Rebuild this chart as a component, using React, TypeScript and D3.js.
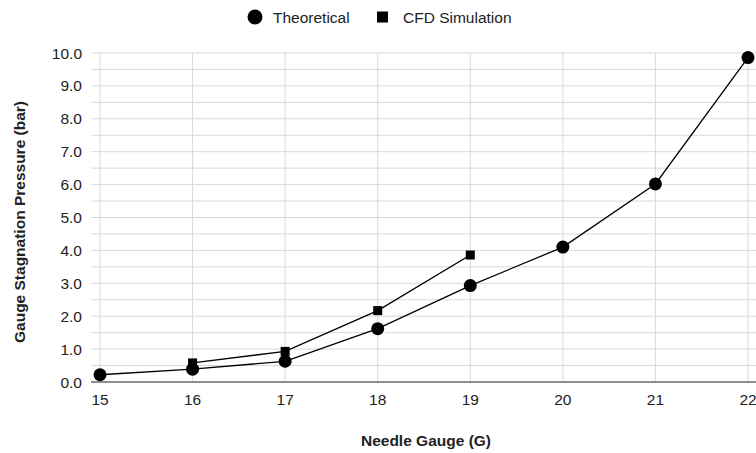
import { useEffect, useRef } from "react";
import * as d3 from "d3";

const gauges = [15, 16, 17, 18, 19, 20, 21, 22];
const theoretical = [0.22, 0.39, 0.63, 1.62, 2.93, 4.1, 6.02, 9.86];
const cfdGauges = [16, 17, 18, 19];
const cfd = [0.58, 0.93, 2.17, 3.86];
const yTicks = [0, 1, 2, 3, 4, 5, 6, 7, 8, 9, 10];

const FONT = "Arial, 'Liberation Sans', sans-serif";
const FS = 15.5;

export default function App() {
  const ref = useRef<SVGSVGElement>(null);

  useEffect(() => {
    const el = ref.current;
    if (!el) return;
    const W = 756, H = 453;
    const svg = d3.select(el).attr("width", W).attr("height", H);
    svg.selectAll("*").remove();
    svg.append("rect").attr("width", W).attr("height", H).attr("fill", "#fff");

    const plotL = 91, plotR = 756;
    const x = d3.scaleLinear().domain([15, 22]).range([100, 748]);
    const y = d3.scaleLinear().domain([0, 10]).range([382, 53]);

    // minor + major horizontal grid
    d3.range(0, 10.01, 0.5).forEach((t) => {
      svg.append("line").attr("x1", plotL).attr("x2", plotR).attr("y1", y(t)).attr("y2", y(t))
        .attr("stroke", "#d9d9d9").attr("stroke-width", 1);
    });
    // vertical grid
    gauges.forEach((g) => {
      svg.append("line").attr("x1", x(g)).attr("x2", x(g)).attr("y1", y(10)).attr("y2", y(0))
        .attr("stroke", "#d9d9d9").attr("stroke-width", 1);
    });
    // baseline
    svg.append("line").attr("x1", plotL).attr("x2", plotR).attr("y1", y(0)).attr("y2", y(0))
      .attr("stroke", "#333").attr("stroke-width", 1);

    // y tick labels
    yTicks.forEach((t) => {
      svg.append("text").attr("x", 82).attr("y", y(t) + 5.5).attr("text-anchor", "end")
        .attr("fill", "#222").attr("font-size", FS).attr("font-family", FONT).text(t.toFixed(1));
    });
    // x tick labels
    gauges.forEach((g) => {
      svg.append("text").attr("x", x(g)).attr("y", 405).attr("text-anchor", "middle")
        .attr("fill", "#222").attr("font-size", FS).attr("font-family", FONT).text(g);
    });

    // axis titles
    svg.append("text").attr("x", 426).attr("y", 446).attr("text-anchor", "middle")
      .attr("fill", "#222").attr("font-size", FS).attr("font-weight", "bold").attr("font-family", FONT)
      .text("Needle Gauge (G)");
    svg.append("text").attr("transform", `translate(25,222) rotate(-90)`).attr("text-anchor", "middle")
      .attr("fill", "#222").attr("font-size", FS).attr("font-weight", "bold").attr("font-family", FONT)
      .text("Gauge Stagnation Pressure (bar)");

    // lines
    const line = d3.line<[number, number]>().x((d) => x(d[0])).y((d) => y(d[1]));
    const tData = gauges.map((g, i) => [g, theoretical[i]] as [number, number]);
    const cData = cfdGauges.map((g, i) => [g, cfd[i]] as [number, number]);
    svg.append("path").datum(cData).attr("fill", "none").attr("stroke", "#000").attr("stroke-width", 1.3).attr("d", line);
    svg.append("path").datum(tData).attr("fill", "none").attr("stroke", "#000").attr("stroke-width", 1.3).attr("d", line);

    svg.append("g").selectAll("rect").data(cData).join("rect")
      .attr("x", (d) => x(d[0]) - 4.5).attr("y", (d) => y(d[1]) - 4.5)
      .attr("width", 9).attr("height", 9).attr("fill", "#000");
    svg.append("g").selectAll("circle").data(tData).join("circle")
      .attr("cx", (d) => x(d[0])).attr("cy", (d) => y(d[1])).attr("r", 6.5).attr("fill", "#000");

    // legend
    svg.append("circle").attr("cx", 255).attr("cy", 17).attr("r", 7.5).attr("fill", "#000");
    svg.append("text").attr("x", 273).attr("y", 22.5).attr("fill", "#222").attr("font-size", FS)
      .attr("font-family", FONT).text("Theoretical");
    svg.append("rect").attr("x", 377).attr("y", 11.5).attr("width", 11).attr("height", 11).attr("fill", "#000");
    svg.append("text").attr("x", 403).attr("y", 22.5).attr("fill", "#222").attr("font-size", FS)
      .attr("font-family", FONT).text("CFD Simulation");
  }, []);

  return <svg ref={ref} style={{ position: "absolute", left: 0, top: 0 }} />;
}
